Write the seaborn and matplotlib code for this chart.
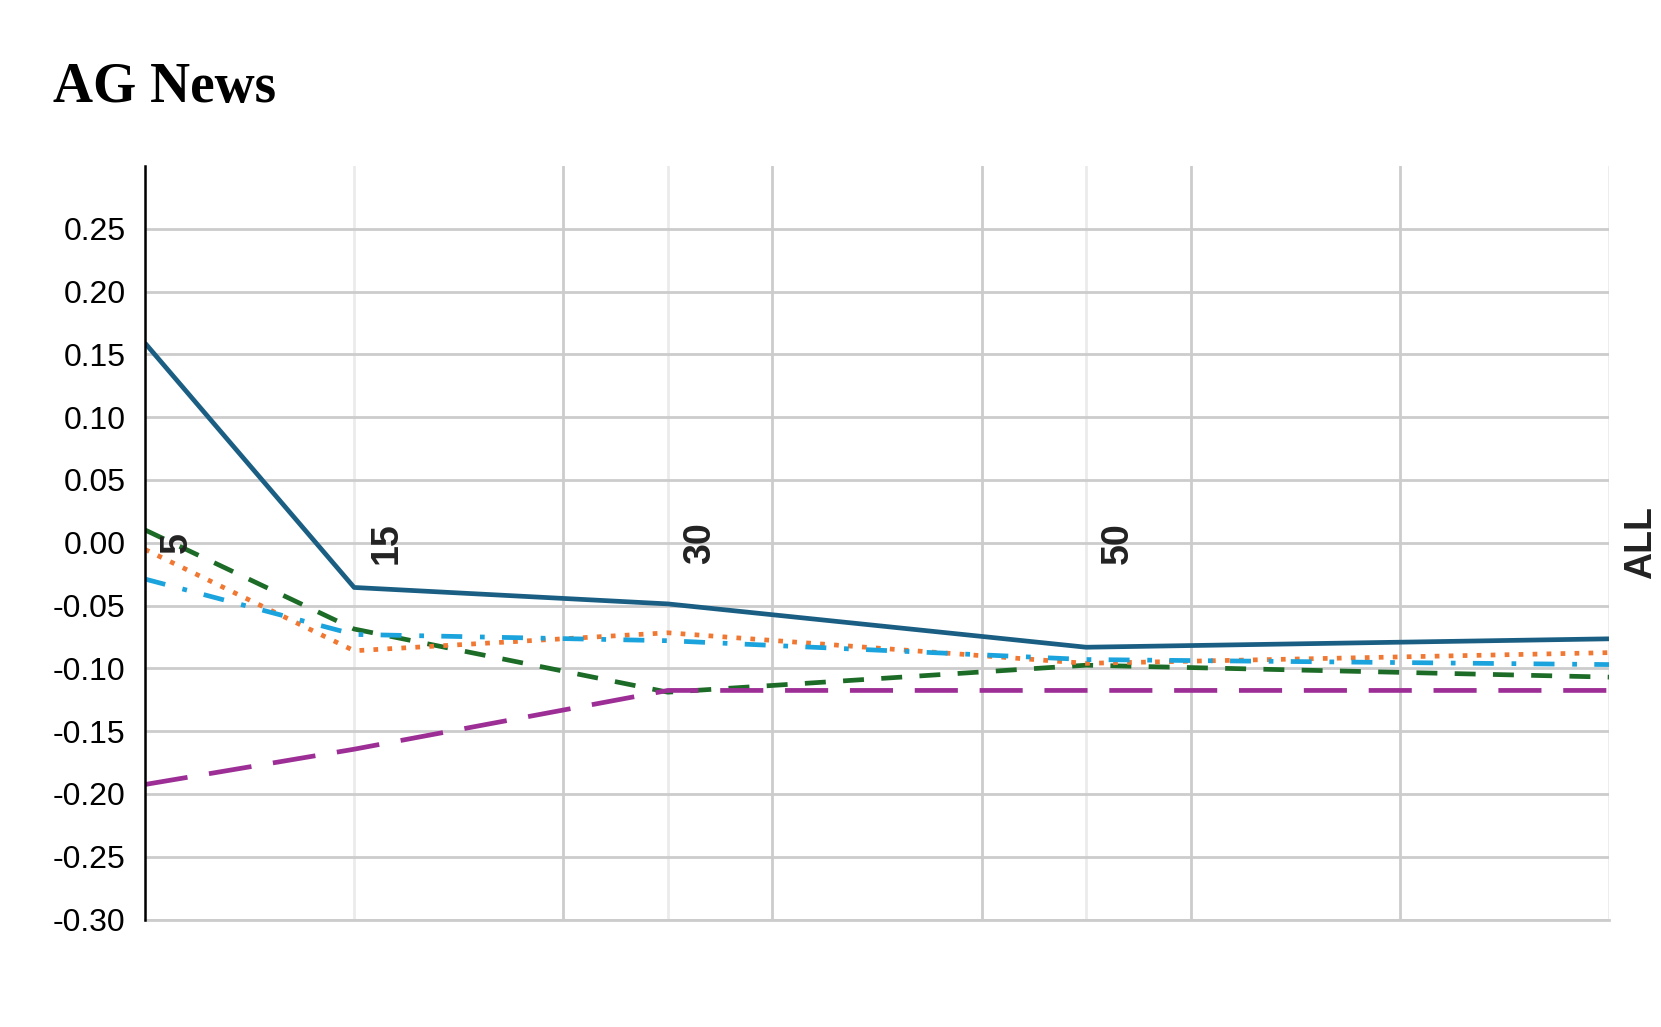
import matplotlib
matplotlib.use("Agg")
import matplotlib.pyplot as plt
import matplotlib.transforms as mtransforms
import seaborn as sns
import pandas as pd

# ---- data ----
title = "AG News"
x_values = [5, 15, 30, 50, 75]
x_labels = ["5", "15", "30", "50", "ALL"]
series_solid = [0.159, -0.0356, -0.0487, -0.0832, -0.0765]
series_green = [0.0102, -0.0687, -0.1190, -0.0975, -0.1070]
series_orange = [-0.0053, -0.0860, -0.0717, -0.0960, -0.0875]
series_lightblue = [-0.0289, -0.0730, -0.0780, -0.0930, -0.0970]
series_purple = [-0.1925, -0.1644, -0.1176, -0.1176, -0.1176]
y_ticks = [-0.30, -0.25, -0.20, -0.15, -0.10, -0.05, 0.00, 0.05, 0.10, 0.15, 0.20, 0.25]
minor_x_grid = [25, 35, 45, 55, 65]

sns.set_theme(style="white")
plt.rcParams["font.family"] = ["Liberation Sans", "DejaVu Sans"]
plt.rcParams["axes.unicode_minus"] = False
plt.rcParams["text.color"] = "black"

fig = plt.figure(figsize=(16.61, 10.27), dpi=100)
ax = fig.add_axes([145 / 1661, 1 - 919.5 / 1027, (1609 - 145) / 1661, (919.5 - 166) / 1027])

lw = 3.4
k = 2.9 / lw
styles = [
    (series_solid, "#1a5f83", "-"),
    (series_green, "#1c6b27", (0, (5.2 * k, 4.3 * k))),
    (series_orange, "#f07832", (0, (1.0, 2.3 * k))),
    (series_lightblue, "#1aa3dc", (0, (5.2 * k, 4.4 * k, 1.0, 4.3 * k))),
    (series_purple, "#9c2e96", (0, (10.7 * k, 5.4 * k))),
]
for i, (vals, col, ls) in enumerate(styles):
    df = pd.DataFrame({"x": x_values, "y": vals})
    sns.lineplot(data=df, x="x", y="y", ax=ax, color=col, linestyle=ls,
                 linewidth=lw, zorder=3 + i, legend=False)
for line in ax.get_lines():
    line.set_dash_capstyle("butt")
    line.set_solid_capstyle("butt")

ax.set_xlim(5, 75)
ax.set_ylim(-0.30, 0.30)
ax.set_xlabel("")
ax.set_ylabel("")

ax.set_xticks(x_values)
ax.set_xticklabels([])
ax.set_xticks(minor_x_grid, minor=True)
ax.set_yticks(y_ticks)
ax.set_yticklabels([f"{v:.2f}" for v in y_ticks], fontsize=23, color="black")
ax.tick_params(axis="both", which="both", length=0)
ax.tick_params(axis="y", pad=14, labelcolor="black")

ax.grid(False)
ax.grid(which="major", axis="x", color="#ebebeb", linewidth=2.0, zorder=0)
ax.grid(which="minor", axis="x", color="#cccccc", linewidth=2.0, zorder=0)
ax.grid(which="major", axis="y", color="#cccccc", linewidth=2.0, zorder=0)
ax.set_axisbelow(True)

for s in ["top", "right"]:
    ax.spines[s].set_visible(False)
ax.spines["bottom"].set_color("#cccccc")
ax.spines["bottom"].set_linewidth(2.0)
ax.spines["left"].set_color("black")
ax.spines["left"].set_linewidth(1.8)
ax.spines["left"].set_zorder(10)

offset = mtransforms.ScaledTranslation(32 / 100, 0, fig.dpi_scale_trans)
for xv, lab in zip(x_values, x_labels):
    ax.text(xv, 0.0, lab, transform=ax.transData + offset, rotation=90,
            ha="center", va="center", fontsize=27, fontweight="bold",
            color="#222222", clip_on=False, zorder=20)

fig.text(53 / 1661, 1 - 102 / 1027, title, fontsize=40, fontweight="bold",
         color="black", family=["Liberation Serif", "DejaVu Serif"],
         ha="left", va="baseline")

fig.savefig("out.png", dpi=100, facecolor="white")
